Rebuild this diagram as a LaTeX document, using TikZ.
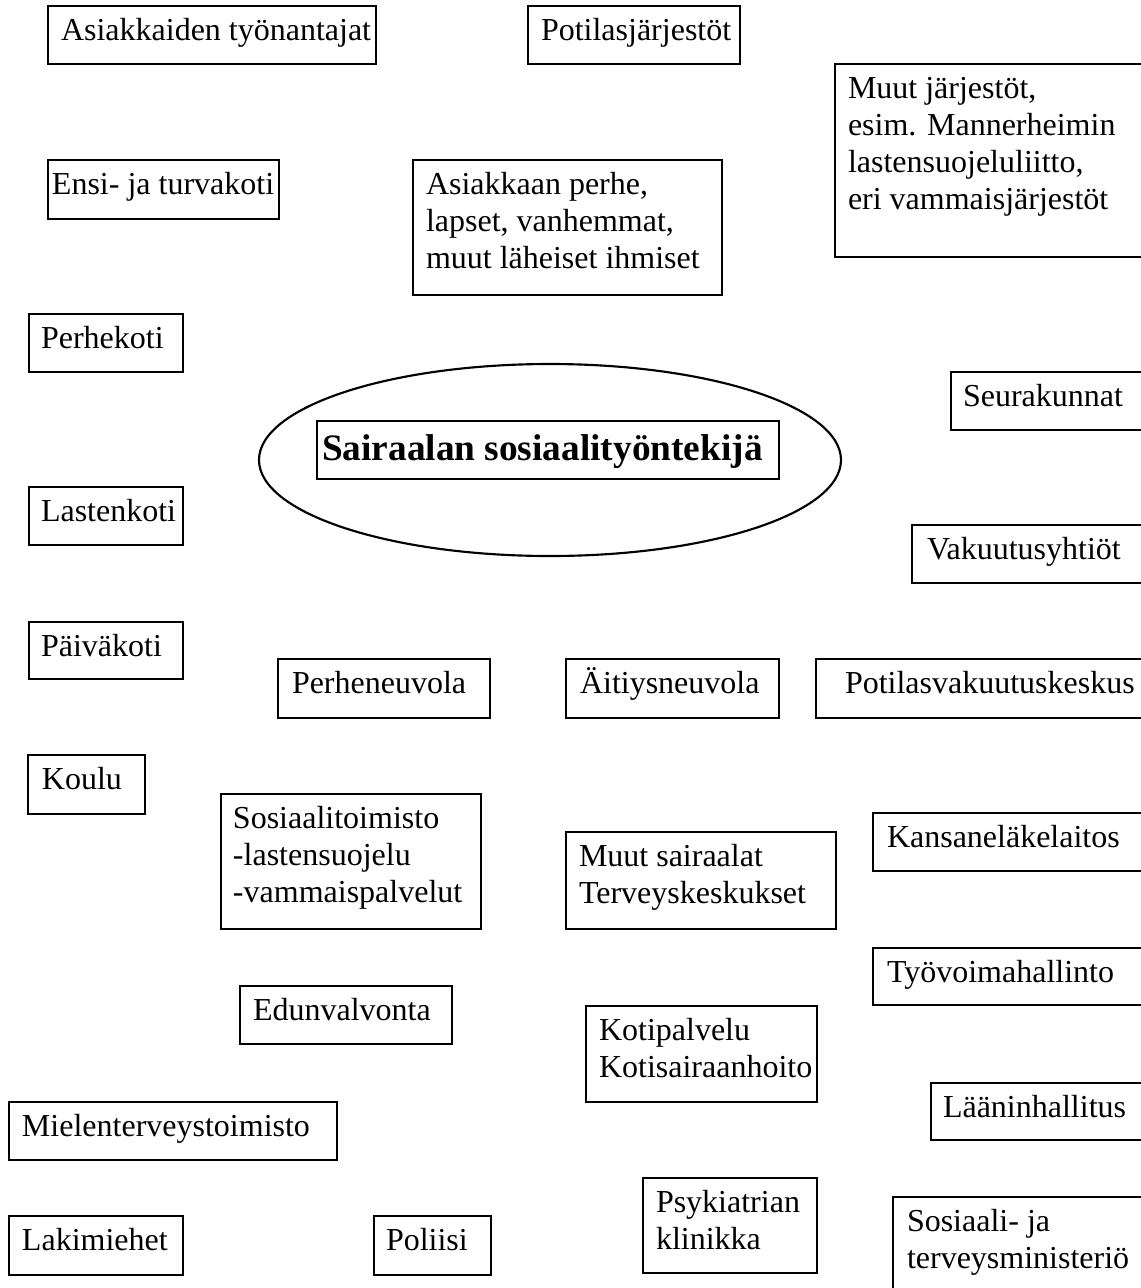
\documentclass[tikz,border=0pt]{standalone}
\usepackage{fontspec}
\setmainfont{Liberation Serif}
\usetikzlibrary{shapes.geometric}
\newdimen\pxu \pxu=0.375pt
\tikzset{
  tb/.style={draw, line width=0.85pt, inner sep=0pt, outer sep=0pt, anchor=north west,
    font=\fontsize{12}{13.875}\selectfont},
  mainbox/.style={tb, font=\fontsize{14}{16.1}\selectfont\bfseries},
  ell/.style={draw, ellipse, line width=0.8pt, inner sep=0pt}
}
% name, x1, y1, x2, y2, left pad, lines
\newcommand{\bx}[8][tb]{%
  \node[#1] (#2) at (#3,#4) {\begin{minipage}[t][\dimexpr\pxu*(#6-#4)\relax][t]{\dimexpr\pxu*(#5-#3)\relax}%
    \leftskip=\dimexpr\pxu*#7\relax\parindent=0pt\baselineskip=\dimexpr\pxu*37\relax
    \rule{0pt}{\dimexpr\pxu*34\relax}#8\end{minipage}};}
\begin{document}
\begin{tikzpicture}[x=0.375pt, y=-0.375pt]
\useasboundingbox (0,0) rectangle (1141,1288);
\clip (0,0) rectangle (1141,1288);
\fill[white] (0,0) rectangle (1141,1288);

\bx{tyonantajat}{48}{6}{376}{64}{13}{\mbox{Asiakkaiden työnantajat}}
\bx{potjarj}{528}{6}{740}{64}{13}{\mbox{Potilasjärjestöt}}
\bx{muutjarj}{835}{64}{1160}{257}{13}{\mbox{Muut järjestöt,}\\\mbox{esim. Mannerheimin}\\\mbox{lastensuojeluliitto,}\\\mbox{eri vammaisjärjestöt}}
\bx{ensi}{48}{160}{279}{219}{4}{\mbox{Ensi- ja turvakoti}}
\bx{perhe}{413}{160}{722}{295}{13}{\mbox{Asiakkaan perhe,}\\\mbox{lapset, vanhemmat,}\\\mbox{muut läheiset ihmiset}}
\bx{perhekoti}{29}{314}{183}{372}{12}{\mbox{Perhekoti}}
\bx{seurak}{951}{372}{1160}{430}{12}{\mbox{Seurakunnat}}

\node[ell, minimum width={582*0.375pt}, minimum height={192*0.375pt}] (ellipse) at (550,460) {};
\node[mainbox] (main) at (317,421) {\begin{minipage}[t][\dimexpr\pxu*58\relax][t]{\dimexpr\pxu*462\relax}%
    \leftskip=\dimexpr\pxu*5\relax\parindent=0pt
    \rule{0pt}{\dimexpr\pxu*39\relax}\mbox{Sairaalan sosiaalityöntekijä}\end{minipage}};

\bx{lastenkoti}{29}{487}{183}{545}{12}{\mbox{Lastenkoti}}
\bx{vakuut}{912}{525}{1160}{583}{15}{\mbox{Vakuutusyhtiöt}}
\bx{paivakoti}{29}{622}{183}{679}{12}{\mbox{Päiväkoti}}
\bx{perheneuvola}{278}{659}{490}{718}{14}{\mbox{Perheneuvola}}
\bx{aitiys}{566}{659}{779}{718}{14}{\mbox{Äitiysneuvola}}
\bx{potvak}{816}{659}{1160}{718}{29}{\mbox{Potilasvakuutuskeskus}}
\bx{koulu}{28}{755}{145}{814}{14}{\mbox{Koulu}}
\bx{sostoim}{221}{794}{481}{929}{12}{\mbox{Sosiaalitoimisto}\\\mbox{-lastensuojelu}\\\mbox{-vammaispalvelut}}
\bx{kela}{873}{813}{1160}{871}{14}{\mbox{Kansaneläkelaitos}}
\bx{muutsair}{566}{832}{836}{929}{13}{\mbox{Muut sairaalat}\\\mbox{Terveyskeskukset}}
\bx{tyovoima}{873}{948}{1160}{1005}{14}{\mbox{Työvoimahallinto}}
\bx{edunv}{240}{986}{452}{1044}{13}{\mbox{Edunvalvonta}}
\bx{kotipalv}{586}{1006}{817}{1102}{13}{\mbox{Kotipalvelu}\\\mbox{Kotisairaanhoito}}
\bx{laanin}{931}{1083}{1160}{1140}{12}{\mbox{Lääninhallitus}}
\bx{mielen}{9}{1102}{337}{1160}{13}{\mbox{Mielenterveystoimisto}}
\bx{psyk}{643}{1178}{817}{1273}{13}{\mbox{Psykiatrian}\\\mbox{klinikka}}
\bx{lakim}{9}{1216}{183}{1275}{13}{\mbox{Lakimiehet}}
\bx{poliisi}{374}{1216}{491}{1275}{12}{\mbox{Poliisi}}
\bx{stm}{893}{1197}{1160}{1310}{14}{\mbox{Sosiaali- ja}\\\mbox{terveysministeriö}}
\end{tikzpicture}
\end{document}
